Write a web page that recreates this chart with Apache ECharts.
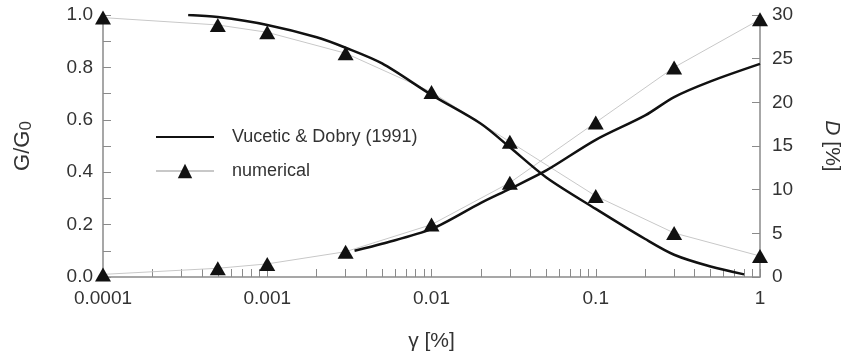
<!DOCTYPE html>
<html>
<head>
<meta charset="utf-8">
<script src="https://cdn.jsdelivr.net/npm/echarts@6/dist/echarts.min.js"></script>
<style>
  html, body { margin: 0; padding: 0; background: #fff; }
  #chart { width: 847px; height: 362px; }
</style>
</head>
<body>
<div id="chart"></div>
<script>
// strain values (%) of the numerical results
const gammaNum = [0.0001, 0.0005, 0.001, 0.003, 0.01, 0.03, 0.1, 0.3, 1];
// G/G0 numerical
const gNum = [0.99, 0.962, 0.934, 0.854, 0.706, 0.516, 0.309, 0.168, 0.08];
// D [%] numerical
const dNum = [0.3, 1.0, 1.5, 2.9, 6.0, 10.8, 17.7, 24.0, 29.5];

// Vucetic & Dobry (1991) curves
const gammaVdG = [0.00033, 0.0005, 0.001, 0.002, 0.003, 0.005, 0.01, 0.02, 0.03, 0.05, 0.1, 0.2, 0.3, 0.5, 0.8];
const gVdG = [1.0, 0.992, 0.962, 0.915, 0.875, 0.815, 0.695, 0.585, 0.495, 0.38, 0.26, 0.145, 0.085, 0.04, 0.01];
const gammaVdD = [0.0034, 0.005, 0.01, 0.02, 0.03, 0.05, 0.1, 0.2, 0.3, 0.5, 1];
const dVdD = [3.0, 3.8, 5.5, 8.5, 10.1, 12.2, 15.7, 18.5, 20.6, 22.4, 24.4];

// x axis ticks (log decades and 2..9 in between)
const xTicks = [];
[0.0001, 0.001, 0.01, 0.1].forEach(d => {
  for (let k = 1; k < 10; k++) xTicks.push(+(d * k).toPrecision(3));
});
xTicks.push(1);

const nameVd = "Vucetic & Dobry (1991)";
const nameNum = "numerical";

const zip = (xs, ys) => xs.map((x, i) => [x, ys[i]]);

const axisColor = "#8a8a8a";
const labelColor = "#333";
const font = "Liberation Sans, Arial, sans-serif";

const chart = echarts.init(document.getElementById("chart"));
chart.setOption({
  animation: false,
  textStyle: { fontFamily: font },
  grid: { left: 103, right: 87, top: 15, bottom: 85, outerBoundsMode: "none" },
  legend: {
    left: 150,
    top: 123,
    orient: "vertical",
    itemWidth: 58,
    itemHeight: 18,
    itemGap: 16,
    selectedMode: false,
    data: [
      { name: nameVd, itemStyle: { opacity: 0 } },
      { name: nameNum }
    ],
    textStyle: { fontSize: 18, color: labelColor, padding: [0, 0, 0, 13] }
  },
  xAxis: {
    type: "log",
    logBase: 10,
    min: 0.0001,
    max: 1,
    name: "γ [%]",
    nameLocation: "middle",
    nameGap: 54,
    nameTextStyle: { fontSize: 21, color: labelColor },
    axisLine: { lineStyle: { color: axisColor, width: 1.5 } },
    axisTick: { inside: true, length: 8, customValues: xTicks, lineStyle: { color: axisColor } },
    axisLabel: { fontSize: 19, color: labelColor, margin: 12, formatter: v => String(v) },
    splitLine: { show: false }
  },
  yAxis: [
    {
      type: "value",
      min: 0,
      max: 1,
      interval: 0.2,
      name: "{n|G/G}{s|0}",
      nameLocation: "middle",
      nameRotate: 90,
      nameGap: 68,
      nameTextStyle: {
        rich: {
          n: { fontSize: 22, color: labelColor, fontFamily: font },
          s: { fontSize: 17, color: labelColor, fontFamily: font, verticalAlign: "bottom", padding: [8, 0, 0, 0] }
        }
      },
      axisLine: { show: true, lineStyle: { color: axisColor, width: 1.5 } },
      axisTick: { show: true, inside: true, length: 8, lineStyle: { color: axisColor } },
      minorTick: { show: true, splitNumber: 2, length: 8, lineStyle: { color: axisColor } },
      axisLabel: { fontSize: 19, color: labelColor, margin: 10, formatter: v => v.toFixed(1) },
      splitLine: { show: false }
    },
    {
      type: "value",
      min: 0,
      max: 30,
      interval: 5,
      position: "right",
      name: "{d|D} [%]",
      nameLocation: "middle",
      nameRotate: -90,
      nameGap: 61,
      nameTextStyle: {
        fontSize: 21,
        color: labelColor,
        rich: { d: { fontSize: 21, fontStyle: "italic", color: labelColor, fontFamily: font } }
      },
      axisLine: { show: true, lineStyle: { color: axisColor, width: 1.5 } },
      axisTick: { show: true, inside: true, length: 8, lineStyle: { color: axisColor } },
      axisLabel: { fontSize: 19, color: labelColor, margin: 12 },
      splitLine: { show: false }
    }
  ],
  series: [
    {
      name: nameNum,
      type: "line",
      yAxisIndex: 0,
      data: zip(gammaNum, gNum),
      symbol: "triangle",
      symbolSize: [16, 14],
      itemStyle: { color: "#111" },
      lineStyle: { color: "#c8c8c8", width: 1 },
      z: 2
    },
    {
      name: nameNum,
      type: "line",
      yAxisIndex: 1,
      data: zip(gammaNum, dNum),
      symbol: "triangle",
      symbolSize: [16, 14],
      itemStyle: { color: "#111" },
      lineStyle: { color: "#c8c8c8", width: 1 },
      z: 2
    },
    {
      name: nameVd,
      type: "line",
      yAxisIndex: 0,
      data: zip(gammaVdG, gVdG),
      symbol: "none",
      smooth: 0.3,
      itemStyle: { color: "#111" },
      lineStyle: { color: "#111", width: 2.5 },
      z: 3
    },
    {
      name: nameVd,
      type: "line",
      yAxisIndex: 1,
      data: zip(gammaVdD, dVdD),
      symbol: "none",
      smooth: 0.3,
      itemStyle: { color: "#111" },
      lineStyle: { color: "#111", width: 2.5 },
      z: 3
    }
  ]
});
</script>
</body>
</html>
